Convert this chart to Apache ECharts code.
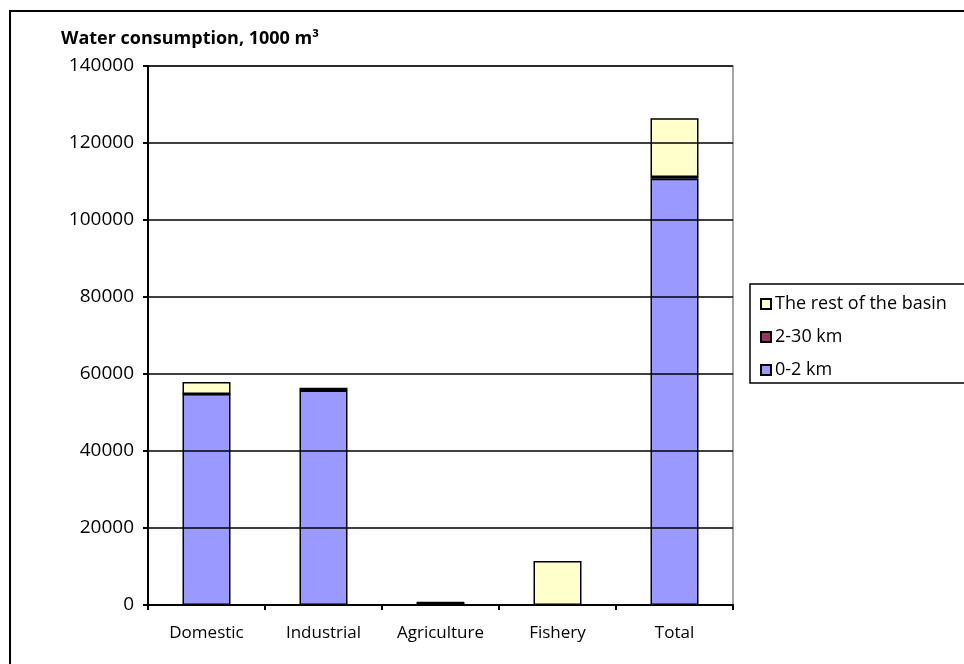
<!DOCTYPE html>
<html>
<head>
<meta charset="utf-8">
<script src="https://cdn.jsdelivr.net/npm/echarts@6/dist/echarts.min.js"></script>
<style>
html,body{margin:0;padding:0;background:#fff;}
#chart{width:964px;height:664px;}
</style>
</head>
<body>
<div id="chart"></div>
<script>
// Water use by sector, split by distance zone (1000 m3)
const categories = ['Domestic', 'Industrial', 'Agriculture', 'Fishery', 'Total'];
const zone0to2 = [54800, 55700, 200, 0, 110700];
const zone2to30 = [0, 100, 400, 0, 500];
const restOfBasin = [3100, 600, 100, 11400, 15200];
const yTicks = [0, 20000, 40000, 60000, 80000, 100000, 120000, 140000];

const FONT = '"Open Sans", sans-serif';
const chart = echarts.init(document.getElementById('chart'));

const barStyle = (color) => ({ color: color, borderColor: '#000', borderWidth: 1.5 });

chart.setOption({
  animation: false,
  textStyle: { fontFamily: FONT },
  graphic: [
    { type: 'rect', shape: { x: 10, y: 11, width: 1000, height: 700 },
      style: { fill: 'none', stroke: '#000', lineWidth: 2 }, z: -1 },
    { type: 'rect', shape: { x: 750, y: 284, width: 300, height: 99 },
      style: { fill: '#fff', stroke: '#000', lineWidth: 1.5 }, z: 0 },
    { type: 'text', left: 61, top: 30,
      style: { text: 'Water consumption, 1000 m³', font: 'bold 18px ' + FONT, fill: '#000' } }
  ],
  legend: {
    left: 755, top: 290, orient: 'vertical', itemGap: 15,
    itemWidth: 10, itemHeight: 10, icon: 'rect',
    textStyle: { fontSize: 18, color: '#000', fontFamily: FONT, padding: [0, 0, 0, -1] },
    data: ['The rest of the basin', '2-30 km', '0-2 km'],
    z: 5
  },
  grid: { left: 148, right: 231, top: 66, bottom: 59, show: true,
    borderColor: '#888', borderWidth: 1.5, containLabel: false },
  xAxis: {
    type: 'category', data: categories,
    axisLine: { lineStyle: { color: '#000', width: 2 } },
    axisTick: { show: true, interval: 0, alignWithLabel: false, length: 5, lineStyle: { color: '#000', width: 2 } },
    axisLabel: { color: '#000', fontSize: 17, margin: 20, interval: 0, fontFamily: FONT },
    z: 10
  },
  yAxis: {
    type: 'value', min: 0, max: 140000, interval: 20000,
    axisLine: { show: true, lineStyle: { color: '#000', width: 2 } },
    axisTick: { show: true, inside: false, length: 5, lineStyle: { color: '#000', width: 2 } },
    axisLabel: { color: '#000', fontSize: 19, margin: 14, fontFamily: FONT,
      formatter: (v) => yTicks.includes(v) ? String(v) : '' },
    splitLine: { show: true, lineStyle: { color: '#000', width: 1.5 } },
    z: 10
  },
  series: [
    { name: '0-2 km', type: 'bar', stack: 'a', data: zone0to2, barWidth: 48,
      itemStyle: barStyle('#9999FF') },
    { name: '2-30 km', type: 'bar', stack: 'a', data: zone2to30, barWidth: 48,
      itemStyle: barStyle('#993366') },
    { name: 'The rest of the basin', type: 'bar', stack: 'a', data: restOfBasin, barWidth: 48,
      itemStyle: barStyle('#FFFFCC') }
  ]
});
</script>
</body>
</html>
